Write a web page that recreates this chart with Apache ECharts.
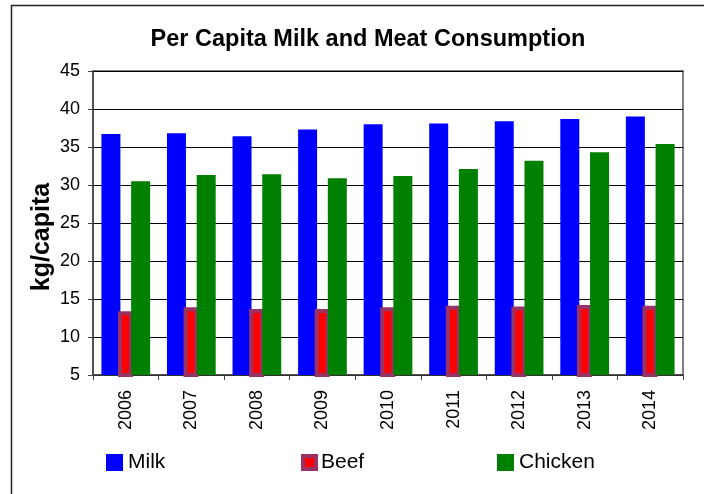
<!DOCTYPE html>
<html>
<head>
<meta charset="utf-8">
<style>
  html, body { margin: 0; padding: 0; background: #fff; }
  #chart { width: 704px; height: 494px; }
</style>
<script src="https://cdn.jsdelivr.net/npm/echarts@6/dist/echarts.min.js"></script>
</head>
<body>
<div id="chart"></div>
<script>
// Per capita consumption, kg/capita
var years = ['2006', '2007', '2008', '2009', '2010', '2011', '2012', '2013', '2014'];
var milk = [36.7, 36.8, 36.4, 37.3, 38.0, 38.1, 38.4, 38.7, 39.0];
var beef = [13.4, 13.9, 13.7, 13.7, 13.9, 14.1, 14.0, 14.2, 14.1];
var chicken = [30.5, 31.3, 31.4, 30.9, 31.2, 32.1, 33.2, 34.3, 35.4];

var FONT = '"Liberation Sans", Arial, sans-serif';

var chart = echarts.init(document.getElementById('chart'), null, { renderer: 'canvas' });

function legendBox(left, name, size, itemStyle) {
  return {
    left: left, top: 452, padding: 0, icon: 'rect',
    itemWidth: size, itemHeight: size,
    textStyle: { fontSize: 21, fontFamily: FONT, color: '#000' },
    data: [{ name: name, itemStyle: itemStyle }]
  };
}

chart.setOption({
  backgroundColor: '#ffffff',
  animation: false,
  textStyle: { fontFamily: FONT, color: '#000' },
  grid: {
    left: 93, right: 21, top: 71, bottom: 119,
    show: true, borderColor: '#808080', borderWidth: 2, backgroundColor: '#fff'
  },
  graphic: [
    {
      type: 'rect', silent: true, z: -1,
      shape: { x: 11.5, y: 5.5, width: 800, height: 600 },
      style: { fill: 'none', stroke: '#222', lineWidth: 1.5 }
    },
    {
      type: 'text', x: 368, y: 40,
      style: {
        text: 'Per Capita Milk and Meat Consumption',
        font: 'bold 23.5px ' + FONT, fill: '#000',
        textAlign: 'center', textVerticalAlign: 'middle'
      }
    },
    {
      type: 'text', x: 42, y: 237, rotation: Math.PI / 2,
      style: {
        text: 'kg/capita',
        font: 'bold 25px ' + FONT, fill: '#000',
        textAlign: 'center', textVerticalAlign: 'middle'
      }
    }
  ],
  legend: [
    legendBox(106, 'Milk', 17, { color: '#0000ff', borderWidth: 0 }),
    legendBox(301, 'Beef', 13, { color: '#ff0000', borderColor: '#993366', borderWidth: 4 }),
    legendBox(497, 'Chicken', 17, { color: '#008000', borderWidth: 0 })
  ],
  xAxis: {
    type: 'category',
    data: years,
    axisLine: { lineStyle: { color: '#404040', width: 1.5 } },
    axisTick: { show: true, length: 5, lineStyle: { color: '#404040' } },
    axisLabel: { rotate: 90, fontSize: 18, margin: 15, color: '#000', fontFamily: FONT }
  },
  yAxis: {
    type: 'value',
    min: 5, max: 45, interval: 5,
    axisLine: { show: true, lineStyle: { color: '#404040', width: 1.5 } },
    axisTick: { show: true, length: 5, lineStyle: { color: '#404040' } },
    axisLabel: { fontSize: 18, margin: 13, color: '#000', fontFamily: FONT },
    splitLine: { lineStyle: { color: '#000', width: 1 } }
  },
  series: [
    {
      name: 'Milk', type: 'bar', data: milk,
      barWidth: 19, barGap: '-12.6%',
      itemStyle: { color: '#0000ff' }
    },
    {
      name: 'Beef', type: 'bar', data: beef,
      barWidth: 15, barGap: '-12.6%',
      itemStyle: { color: '#ff0000', borderColor: '#993366', borderWidth: 4 }
    },
    {
      name: 'Chicken', type: 'bar', data: chicken,
      barWidth: 19, barGap: '-12.6%',
      itemStyle: { color: '#008000' }
    }
  ]
});
</script>
</body>
</html>
